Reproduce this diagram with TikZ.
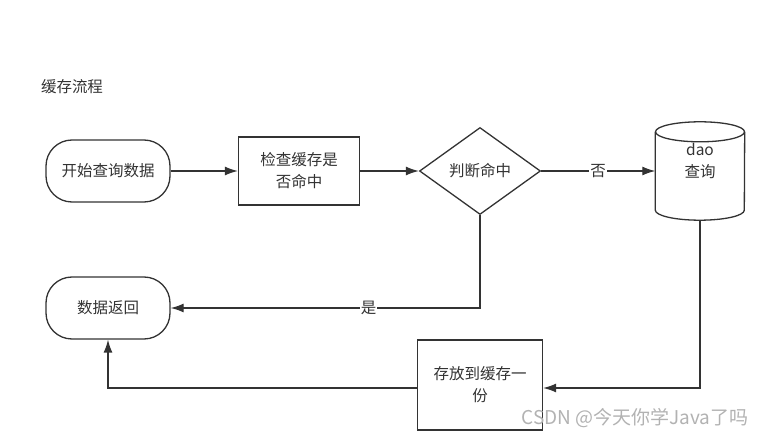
\documentclass[tikz,border=0pt]{standalone}
\usepackage{fontspec}
\setmainfont{Noto Sans CJK SC}
\usepackage{tikz}
\usetikzlibrary{arrows.meta,shapes.geometric}
\definecolor{ink}{HTML}{333333}

\begin{document}
\begin{tikzpicture}[x=1pt,y=-1pt,
  every node/.style={font=\fontsize{15.5}{22}\selectfont,text=ink},
  line/.style={draw=ink,line width=1.3pt},
  flow/.style={line,-{Latex[length=13pt,width=9pt]}},
  term/.style={line,rounded corners=26pt,minimum width=124pt,minimum height=62pt},
  procbox/.style={line,align=center,inner sep=0pt},
  tag/.style={fill=white,inner sep=1pt}]
\useasboundingbox (0,0) rectangle (766,438);
\node (title) at (72,87) {缓存流程};
% top row
\node[term] (start) at (108,171) {开始查询数据};
\node[procbox,minimum width=121pt,minimum height=68pt] (check) at (299,171) {检查缓存是\\否命中};
\node[line,diamond,aspect=1.39,minimum width=121pt,minimum height=87pt,inner sep=0pt] (judge) at (480,171) {判断命中};
\node[minimum width=89pt,minimum height=98pt,inner sep=0pt] (dao) at (700,171) {};
\draw[line] ([yshift=-10pt]dao.north) ellipse (44.5pt and 10pt);
\draw[line] ([yshift=-10pt]dao.north west) -- ([yshift=10pt]dao.south west)
  arc[start angle=180,end angle=360,x radius=44.5pt,y radius=10pt] -- ([yshift=-10pt]dao.north east);
\node[align=center] (daotext) at (700,161) {dao\\查询};
% bottom row
\node[term] (back) at (108,308) {数据返回};
\node[procbox,minimum width=125pt,minimum height=90pt] (store) at (480,385) {存放到缓存一\\份};
\node[text=gray!60,font=\fontsize{19}{22}\selectfont] (mark) at (635,418) {CSDN @今天你学Java了吗};
\draw[flow] (start) -- (check);
\draw[flow] (check) -- (judge);
\draw[flow] (judge) -- node[tag] {否} (dao);
\draw[flow] (judge.south) |- node[tag,pos=0.68] {是} (back.east);
\draw[flow] (dao.south) |- ([yshift=-3pt]store.east);
\draw[flow] ([yshift=-3pt]store.west) -| (back.south);
\end{tikzpicture}
\end{document}
